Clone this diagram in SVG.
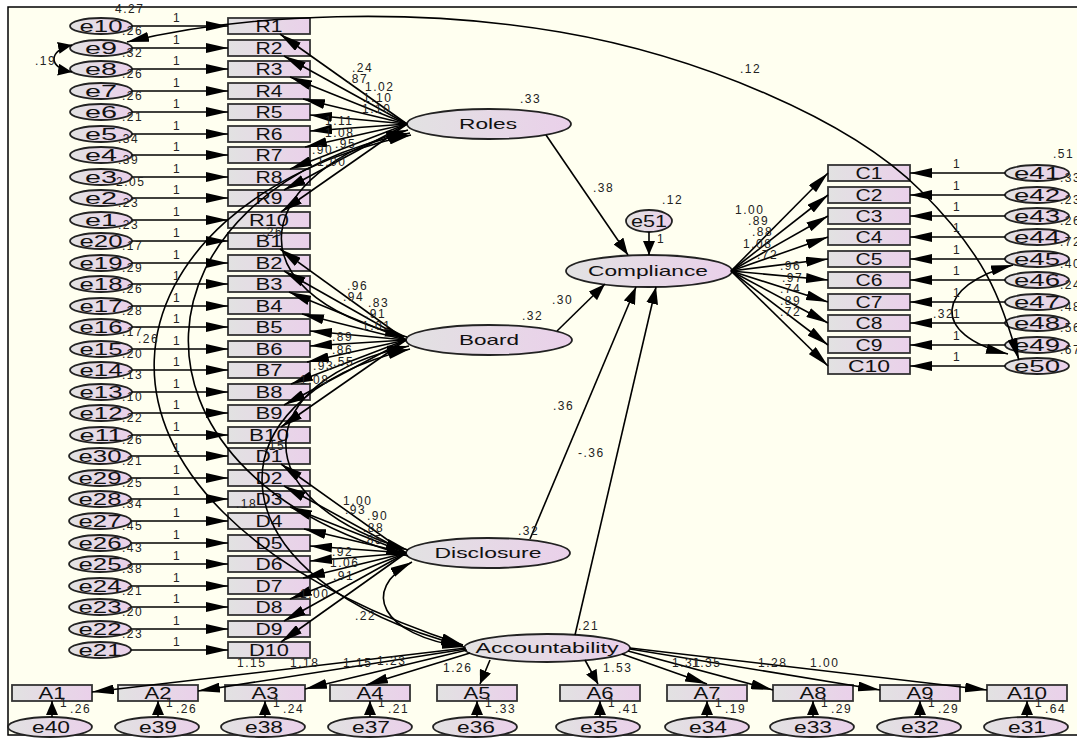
<svg xmlns="http://www.w3.org/2000/svg" width="1077" height="738" viewBox="0 0 1077 738">
<defs>
<linearGradient id="g" x1="0" y1="0" x2="1" y2="0"><stop offset="0" stop-color="#E2E2E2"/><stop offset="1" stop-color="#EAD0EA"/></linearGradient>
<marker id="ah" viewBox="0 0 22 10" markerUnits="userSpaceOnUse" markerWidth="22" markerHeight="10" refX="22" refY="5" orient="auto-start-reverse"><path d="M0,0 L22,5 L0,10 z" fill="#000"/></marker>
<marker id="av" viewBox="0 0 14 12" markerUnits="userSpaceOnUse" markerWidth="14" markerHeight="12" refX="14" refY="6" orient="auto-start-reverse"><path d="M0,0 L14,6 L0,12 z" fill="#000"/></marker>
<marker id="am" viewBox="0 0 17 12" markerUnits="userSpaceOnUse" markerWidth="17" markerHeight="12" refX="17" refY="6" orient="auto-start-reverse"><path d="M0,0 L17,6 L0,12 z" fill="#000"/></marker>
</defs>
<style>
.bx{fill:url(#g);stroke:#333;stroke-width:1.8}
.el{fill:url(#g);stroke:#222;stroke-width:1.8}
.lbl{font-family:"Liberation Sans",Arial,sans-serif;font-size:16px;fill:#111;text-anchor:middle}
.lv{font-family:"Liberation Sans",Arial,sans-serif;font-size:15px;fill:#111;text-anchor:middle}
.num{font-family:"Liberation Sans",Arial,sans-serif;font-size:12px;fill:#222;letter-spacing:1.5px}
.cn line,.cn path{fill:none;stroke:#000;stroke-width:1.6}
.ar{marker-end:url(#ah)}
.av{marker-end:url(#av)}
.am{marker-end:url(#am)}
.cv{marker-start:url(#ah);marker-end:url(#ah)}
</style>
<rect x="0" y="0" width="1077" height="738" fill="#fff"/>
<rect x="8" y="7" width="1085" height="728" fill="#FFFFF0" stroke="#000" stroke-width="1.5"/>

<!-- left observed boxes -->
<g id="R1"><rect class="bx" x="228" y="18" width="82" height="16"/><text class="lbl" x="269" y="32" textLength="27" lengthAdjust="spacingAndGlyphs">R1</text></g>
<g id="R2"><rect class="bx" x="228" y="40" width="82" height="16"/><text class="lbl" x="269" y="54" textLength="27" lengthAdjust="spacingAndGlyphs">R2</text></g>
<g id="R3"><rect class="bx" x="228" y="61" width="82" height="16"/><text class="lbl" x="269" y="75" textLength="27" lengthAdjust="spacingAndGlyphs">R3</text></g>
<g id="R4"><rect class="bx" x="228" y="83" width="82" height="16"/><text class="lbl" x="269" y="97" textLength="27" lengthAdjust="spacingAndGlyphs">R4</text></g>
<g id="R5"><rect class="bx" x="228" y="104" width="82" height="16"/><text class="lbl" x="269" y="118" textLength="27" lengthAdjust="spacingAndGlyphs">R5</text></g>
<g id="R6"><rect class="bx" x="228" y="126" width="82" height="16"/><text class="lbl" x="269" y="140" textLength="27" lengthAdjust="spacingAndGlyphs">R6</text></g>
<g id="R7"><rect class="bx" x="228" y="147" width="82" height="16"/><text class="lbl" x="269" y="161" textLength="27" lengthAdjust="spacingAndGlyphs">R7</text></g>
<g id="R8"><rect class="bx" x="228" y="169" width="82" height="16"/><text class="lbl" x="269" y="183" textLength="27" lengthAdjust="spacingAndGlyphs">R8</text></g>
<g id="R9"><rect class="bx" x="228" y="190" width="82" height="16"/><text class="lbl" x="269" y="204" textLength="27" lengthAdjust="spacingAndGlyphs">R9</text></g>
<g id="R10"><rect class="bx" x="228" y="212" width="82" height="16"/><text class="lbl" x="269" y="226" textLength="40" lengthAdjust="spacingAndGlyphs">R10</text></g>
<g id="B1"><rect class="bx" x="228" y="233" width="82" height="16"/><text class="lbl" x="269" y="247" textLength="27" lengthAdjust="spacingAndGlyphs">B1</text></g>
<g id="B2"><rect class="bx" x="228" y="255" width="82" height="16"/><text class="lbl" x="269" y="269" textLength="27" lengthAdjust="spacingAndGlyphs">B2</text></g>
<g id="B3"><rect class="bx" x="228" y="276" width="82" height="16"/><text class="lbl" x="269" y="290" textLength="27" lengthAdjust="spacingAndGlyphs">B3</text></g>
<g id="B4"><rect class="bx" x="228" y="298" width="82" height="16"/><text class="lbl" x="269" y="312" textLength="27" lengthAdjust="spacingAndGlyphs">B4</text></g>
<g id="B5"><rect class="bx" x="228" y="319" width="82" height="16"/><text class="lbl" x="269" y="333" textLength="27" lengthAdjust="spacingAndGlyphs">B5</text></g>
<g id="B6"><rect class="bx" x="228" y="341" width="82" height="16"/><text class="lbl" x="269" y="355" textLength="27" lengthAdjust="spacingAndGlyphs">B6</text></g>
<g id="B7"><rect class="bx" x="228" y="362" width="82" height="16"/><text class="lbl" x="269" y="376" textLength="27" lengthAdjust="spacingAndGlyphs">B7</text></g>
<g id="B8"><rect class="bx" x="228" y="384" width="82" height="16"/><text class="lbl" x="269" y="398" textLength="27" lengthAdjust="spacingAndGlyphs">B8</text></g>
<g id="B9"><rect class="bx" x="228" y="405" width="82" height="16"/><text class="lbl" x="269" y="419" textLength="27" lengthAdjust="spacingAndGlyphs">B9</text></g>
<g id="B10"><rect class="bx" x="228" y="427" width="82" height="16"/><text class="lbl" x="269" y="441" textLength="40" lengthAdjust="spacingAndGlyphs">B10</text></g>
<g id="D1"><rect class="bx" x="228" y="448" width="82" height="16"/><text class="lbl" x="269" y="462" textLength="27" lengthAdjust="spacingAndGlyphs">D1</text></g>
<g id="D2"><rect class="bx" x="228" y="470" width="82" height="16"/><text class="lbl" x="269" y="484" textLength="27" lengthAdjust="spacingAndGlyphs">D2</text></g>
<g id="D3"><rect class="bx" x="228" y="491" width="82" height="16"/><text class="lbl" x="269" y="505" textLength="27" lengthAdjust="spacingAndGlyphs">D3</text></g>
<g id="D4"><rect class="bx" x="228" y="513" width="82" height="16"/><text class="lbl" x="269" y="527" textLength="27" lengthAdjust="spacingAndGlyphs">D4</text></g>
<g id="D5"><rect class="bx" x="228" y="535" width="82" height="16"/><text class="lbl" x="269" y="549" textLength="27" lengthAdjust="spacingAndGlyphs">D5</text></g>
<g id="D6"><rect class="bx" x="228" y="556" width="82" height="16"/><text class="lbl" x="269" y="570" textLength="27" lengthAdjust="spacingAndGlyphs">D6</text></g>
<g id="D7"><rect class="bx" x="228" y="578" width="82" height="16"/><text class="lbl" x="269" y="592" textLength="27" lengthAdjust="spacingAndGlyphs">D7</text></g>
<g id="D8"><rect class="bx" x="228" y="599" width="82" height="16"/><text class="lbl" x="269" y="613" textLength="27" lengthAdjust="spacingAndGlyphs">D8</text></g>
<g id="D9"><rect class="bx" x="228" y="621" width="82" height="16"/><text class="lbl" x="269" y="635" textLength="27" lengthAdjust="spacingAndGlyphs">D9</text></g>
<g id="D10"><rect class="bx" x="228" y="642" width="82" height="16"/><text class="lbl" x="269" y="656" textLength="40" lengthAdjust="spacingAndGlyphs">D10</text></g>

<!-- left error terms -->
<g id="e10"><ellipse class="el" cx="101" cy="26" rx="31" ry="8"/><text class="lbl" x="101" y="32" font-size="17" textLength="43" lengthAdjust="spacingAndGlyphs">e10</text></g>
<g id="e9"><ellipse class="el" cx="101" cy="48" rx="31" ry="8"/><text class="lbl" x="101" y="54" font-size="17" textLength="32" lengthAdjust="spacingAndGlyphs">e9</text></g>
<g id="e8"><ellipse class="el" cx="101" cy="69" rx="31" ry="8"/><text class="lbl" x="101" y="75" font-size="17" textLength="32" lengthAdjust="spacingAndGlyphs">e8</text></g>
<g id="e7"><ellipse class="el" cx="101" cy="91" rx="31" ry="8"/><text class="lbl" x="101" y="97" font-size="17" textLength="32" lengthAdjust="spacingAndGlyphs">e7</text></g>
<g id="e6"><ellipse class="el" cx="101" cy="112" rx="31" ry="8"/><text class="lbl" x="101" y="118" font-size="17" textLength="32" lengthAdjust="spacingAndGlyphs">e6</text></g>
<g id="e5"><ellipse class="el" cx="101" cy="134" rx="31" ry="8"/><text class="lbl" x="101" y="140" font-size="17" textLength="32" lengthAdjust="spacingAndGlyphs">e5</text></g>
<g id="e4"><ellipse class="el" cx="101" cy="155" rx="31" ry="8"/><text class="lbl" x="101" y="161" font-size="17" textLength="32" lengthAdjust="spacingAndGlyphs">e4</text></g>
<g id="e3"><ellipse class="el" cx="101" cy="177" rx="31" ry="8"/><text class="lbl" x="101" y="183" font-size="17" textLength="32" lengthAdjust="spacingAndGlyphs">e3</text></g>
<g id="e2"><ellipse class="el" cx="101" cy="198" rx="31" ry="8"/><text class="lbl" x="101" y="204" font-size="17" textLength="32" lengthAdjust="spacingAndGlyphs">e2</text></g>
<g id="e1"><ellipse class="el" cx="101" cy="220" rx="31" ry="8"/><text class="lbl" x="101" y="226" font-size="17" textLength="32" lengthAdjust="spacingAndGlyphs">e1</text></g>
<g id="e20"><ellipse class="el" cx="101" cy="241" rx="31" ry="8"/><text class="lbl" x="101" y="247" font-size="17" textLength="43" lengthAdjust="spacingAndGlyphs">e20</text></g>
<g id="e19"><ellipse class="el" cx="101" cy="263" rx="31" ry="8"/><text class="lbl" x="101" y="269" font-size="17" textLength="43" lengthAdjust="spacingAndGlyphs">e19</text></g>
<g id="e18"><ellipse class="el" cx="101" cy="284" rx="31" ry="8"/><text class="lbl" x="101" y="290" font-size="17" textLength="43" lengthAdjust="spacingAndGlyphs">e18</text></g>
<g id="e17"><ellipse class="el" cx="101" cy="306" rx="31" ry="8"/><text class="lbl" x="101" y="312" font-size="17" textLength="43" lengthAdjust="spacingAndGlyphs">e17</text></g>
<g id="e16"><ellipse class="el" cx="101" cy="327" rx="31" ry="8"/><text class="lbl" x="101" y="333" font-size="17" textLength="43" lengthAdjust="spacingAndGlyphs">e16</text></g>
<g id="e15"><ellipse class="el" cx="101" cy="349" rx="31" ry="8"/><text class="lbl" x="101" y="355" font-size="17" textLength="43" lengthAdjust="spacingAndGlyphs">e15</text></g>
<g id="e14"><ellipse class="el" cx="101" cy="370" rx="31" ry="8"/><text class="lbl" x="101" y="376" font-size="17" textLength="43" lengthAdjust="spacingAndGlyphs">e14</text></g>
<g id="e13"><ellipse class="el" cx="101" cy="392" rx="31" ry="8"/><text class="lbl" x="101" y="398" font-size="17" textLength="43" lengthAdjust="spacingAndGlyphs">e13</text></g>
<g id="e12"><ellipse class="el" cx="101" cy="413" rx="31" ry="8"/><text class="lbl" x="101" y="419" font-size="17" textLength="43" lengthAdjust="spacingAndGlyphs">e12</text></g>
<g id="e11"><ellipse class="el" cx="101" cy="435" rx="31" ry="8"/><text class="lbl" x="101" y="441" font-size="17" textLength="43" lengthAdjust="spacingAndGlyphs">e11</text></g>
<g id="e30"><ellipse class="el" cx="100" cy="456" rx="31" ry="8"/><text class="lbl" x="100" y="462" font-size="17" textLength="43" lengthAdjust="spacingAndGlyphs">e30</text></g>
<g id="e29"><ellipse class="el" cx="100" cy="478" rx="31" ry="8"/><text class="lbl" x="100" y="484" font-size="17" textLength="43" lengthAdjust="spacingAndGlyphs">e29</text></g>
<g id="e28"><ellipse class="el" cx="100" cy="499" rx="31" ry="8"/><text class="lbl" x="100" y="505" font-size="17" textLength="43" lengthAdjust="spacingAndGlyphs">e28</text></g>
<g id="e27"><ellipse class="el" cx="100" cy="521" rx="31" ry="8"/><text class="lbl" x="100" y="527" font-size="17" textLength="43" lengthAdjust="spacingAndGlyphs">e27</text></g>
<g id="e26"><ellipse class="el" cx="100" cy="543" rx="31" ry="8"/><text class="lbl" x="100" y="549" font-size="17" textLength="43" lengthAdjust="spacingAndGlyphs">e26</text></g>
<g id="e25"><ellipse class="el" cx="100" cy="564" rx="31" ry="8"/><text class="lbl" x="100" y="570" font-size="17" textLength="43" lengthAdjust="spacingAndGlyphs">e25</text></g>
<g id="e24"><ellipse class="el" cx="100" cy="586" rx="31" ry="8"/><text class="lbl" x="100" y="592" font-size="17" textLength="43" lengthAdjust="spacingAndGlyphs">e24</text></g>
<g id="e23"><ellipse class="el" cx="100" cy="607" rx="31" ry="8"/><text class="lbl" x="100" y="613" font-size="17" textLength="43" lengthAdjust="spacingAndGlyphs">e23</text></g>
<g id="e22"><ellipse class="el" cx="100" cy="629" rx="31" ry="8"/><text class="lbl" x="100" y="635" font-size="17" textLength="43" lengthAdjust="spacingAndGlyphs">e22</text></g>
<g id="e21"><ellipse class="el" cx="100" cy="650" rx="31" ry="8"/><text class="lbl" x="100" y="656" font-size="17" textLength="43" lengthAdjust="spacingAndGlyphs">e21</text></g>

<!-- latent variables -->
<g id="Roles"><ellipse class="el" cx="489" cy="124" rx="82" ry="15"/><text class="lv" x="488" y="129" textLength="58" lengthAdjust="spacingAndGlyphs">Roles</text></g>
<g id="Board"><ellipse class="el" cx="489" cy="340" rx="83" ry="15"/><text class="lv" x="489" y="345" textLength="60" lengthAdjust="spacingAndGlyphs">Board</text></g>
<g id="Disclosure"><ellipse class="el" cx="488" cy="553" rx="82" ry="15"/><text class="lv" x="488" y="558" textLength="107" lengthAdjust="spacingAndGlyphs">Disclosure</text></g>
<g id="Accountability"><ellipse class="el" cx="547" cy="648" rx="83" ry="14"/><text class="lv" x="547" y="653" textLength="143" lengthAdjust="spacingAndGlyphs">Accountability</text></g>
<g id="Compliance"><ellipse class="el" cx="649" cy="271" rx="83" ry="16"/><text class="lv" x="648" y="276" textLength="120" lengthAdjust="spacingAndGlyphs">Compliance</text></g>
<g id="e51"><ellipse class="el" cx="649" cy="221" rx="23" ry="11"/><text class="lbl" x="649" y="227" textLength="36" lengthAdjust="spacingAndGlyphs">e51</text></g>

<!-- right observed -->
<g id="C1"><rect class="bx" x="828" y="165" width="82" height="16"/><text class="lbl" x="869" y="179" textLength="27" lengthAdjust="spacingAndGlyphs">C1</text></g>
<g id="C2"><rect class="bx" x="828" y="187" width="82" height="16"/><text class="lbl" x="869" y="201" textLength="27" lengthAdjust="spacingAndGlyphs">C2</text></g>
<g id="C3"><rect class="bx" x="828" y="208" width="82" height="16"/><text class="lbl" x="869" y="222" textLength="27" lengthAdjust="spacingAndGlyphs">C3</text></g>
<g id="C4"><rect class="bx" x="828" y="229" width="82" height="16"/><text class="lbl" x="869" y="243" textLength="27" lengthAdjust="spacingAndGlyphs">C4</text></g>
<g id="C5"><rect class="bx" x="828" y="251" width="82" height="16"/><text class="lbl" x="869" y="265" textLength="27" lengthAdjust="spacingAndGlyphs">C5</text></g>
<g id="C6"><rect class="bx" x="828" y="272" width="82" height="16"/><text class="lbl" x="869" y="286" textLength="27" lengthAdjust="spacingAndGlyphs">C6</text></g>
<g id="C7"><rect class="bx" x="828" y="294" width="82" height="16"/><text class="lbl" x="869" y="308" textLength="27" lengthAdjust="spacingAndGlyphs">C7</text></g>
<g id="C8"><rect class="bx" x="828" y="315" width="82" height="16"/><text class="lbl" x="869" y="329" textLength="27" lengthAdjust="spacingAndGlyphs">C8</text></g>
<g id="C9"><rect class="bx" x="828" y="337" width="82" height="16"/><text class="lbl" x="869" y="351" textLength="27" lengthAdjust="spacingAndGlyphs">C9</text></g>
<g id="C10"><rect class="bx" x="828" y="358" width="82" height="16"/><text class="lbl" x="869" y="372" textLength="42" lengthAdjust="spacingAndGlyphs">C10</text></g>

<g id="e41"><ellipse class="el" cx="1037" cy="173" rx="32" ry="8"/><text class="lbl" x="1037" y="179" textLength="46" lengthAdjust="spacingAndGlyphs">e41</text></g>
<g id="e42"><ellipse class="el" cx="1037" cy="195" rx="32" ry="8"/><text class="lbl" x="1037" y="201" textLength="46" lengthAdjust="spacingAndGlyphs">e42</text></g>
<g id="e43"><ellipse class="el" cx="1037" cy="216" rx="32" ry="8"/><text class="lbl" x="1037" y="222" textLength="46" lengthAdjust="spacingAndGlyphs">e43</text></g>
<g id="e44"><ellipse class="el" cx="1037" cy="237" rx="32" ry="8"/><text class="lbl" x="1037" y="243" textLength="46" lengthAdjust="spacingAndGlyphs">e44</text></g>
<g id="e45"><ellipse class="el" cx="1037" cy="259" rx="32" ry="8"/><text class="lbl" x="1037" y="265" textLength="46" lengthAdjust="spacingAndGlyphs">e45</text></g>
<g id="e46"><ellipse class="el" cx="1037" cy="280" rx="32" ry="8"/><text class="lbl" x="1037" y="286" textLength="46" lengthAdjust="spacingAndGlyphs">e46</text></g>
<g id="e47"><ellipse class="el" cx="1037" cy="302" rx="32" ry="8"/><text class="lbl" x="1037" y="308" textLength="46" lengthAdjust="spacingAndGlyphs">e47</text></g>
<g id="e48"><ellipse class="el" cx="1037" cy="323" rx="32" ry="8"/><text class="lbl" x="1037" y="329" textLength="46" lengthAdjust="spacingAndGlyphs">e48</text></g>
<g id="e49"><ellipse class="el" cx="1037" cy="345" rx="32" ry="8"/><text class="lbl" x="1037" y="351" textLength="46" lengthAdjust="spacingAndGlyphs">e49</text></g>
<g id="e50"><ellipse class="el" cx="1037" cy="366" rx="32" ry="8"/><text class="lbl" x="1037" y="372" textLength="46" lengthAdjust="spacingAndGlyphs">e50</text></g>

<!-- bottom observed -->
<g id="A1"><rect class="bx" x="12" y="685" width="80" height="16"/><text class="lbl" x="52" y="699" textLength="27" lengthAdjust="spacingAndGlyphs">A1</text></g>
<g id="A2"><rect class="bx" x="118" y="685" width="80" height="16"/><text class="lbl" x="158" y="699" textLength="27" lengthAdjust="spacingAndGlyphs">A2</text></g>
<g id="A3"><rect class="bx" x="225" y="685" width="80" height="16"/><text class="lbl" x="265" y="699" textLength="27" lengthAdjust="spacingAndGlyphs">A3</text></g>
<g id="A4"><rect class="bx" x="330" y="685" width="80" height="16"/><text class="lbl" x="370" y="699" textLength="27" lengthAdjust="spacingAndGlyphs">A4</text></g>
<g id="A5"><rect class="bx" x="437" y="685" width="80" height="16"/><text class="lbl" x="477" y="699" textLength="27" lengthAdjust="spacingAndGlyphs">A5</text></g>
<g id="A6"><rect class="bx" x="560" y="685" width="80" height="16"/><text class="lbl" x="600" y="699" textLength="27" lengthAdjust="spacingAndGlyphs">A6</text></g>
<g id="A7"><rect class="bx" x="667" y="685" width="80" height="16"/><text class="lbl" x="707" y="699" textLength="27" lengthAdjust="spacingAndGlyphs">A7</text></g>
<g id="A8"><rect class="bx" x="773" y="685" width="80" height="16"/><text class="lbl" x="813" y="699" textLength="27" lengthAdjust="spacingAndGlyphs">A8</text></g>
<g id="A9"><rect class="bx" x="880" y="685" width="80" height="16"/><text class="lbl" x="920" y="699" textLength="27" lengthAdjust="spacingAndGlyphs">A9</text></g>
<g id="A10"><rect class="bx" x="987" y="685" width="80" height="16"/><text class="lbl" x="1027" y="699" textLength="40" lengthAdjust="spacingAndGlyphs">A10</text></g>

<g id="e40"><ellipse class="el" cx="50" cy="727" rx="42" ry="10"/><text class="lbl" x="51" y="733" textLength="38" lengthAdjust="spacingAndGlyphs">e40</text></g>
<g id="e39"><ellipse class="el" cx="157" cy="727" rx="42" ry="10"/><text class="lbl" x="158" y="733" textLength="38" lengthAdjust="spacingAndGlyphs">e39</text></g>
<g id="e38"><ellipse class="el" cx="263" cy="727" rx="42" ry="10"/><text class="lbl" x="264" y="733" textLength="38" lengthAdjust="spacingAndGlyphs">e38</text></g>
<g id="e37"><ellipse class="el" cx="370" cy="727" rx="42" ry="10"/><text class="lbl" x="371" y="733" textLength="38" lengthAdjust="spacingAndGlyphs">e37</text></g>
<g id="e36"><ellipse class="el" cx="475" cy="727" rx="42" ry="10"/><text class="lbl" x="476" y="733" textLength="38" lengthAdjust="spacingAndGlyphs">e36</text></g>
<g id="e35"><ellipse class="el" cx="598" cy="727" rx="42" ry="10"/><text class="lbl" x="599" y="733" textLength="38" lengthAdjust="spacingAndGlyphs">e35</text></g>
<g id="e34"><ellipse class="el" cx="707" cy="727" rx="42" ry="10"/><text class="lbl" x="708" y="733" textLength="38" lengthAdjust="spacingAndGlyphs">e34</text></g>
<g id="e33"><ellipse class="el" cx="812" cy="727" rx="42" ry="10"/><text class="lbl" x="813" y="733" textLength="38" lengthAdjust="spacingAndGlyphs">e33</text></g>
<g id="e32"><ellipse class="el" cx="919" cy="727" rx="42" ry="10"/><text class="lbl" x="920" y="733" textLength="38" lengthAdjust="spacingAndGlyphs">e32</text></g>
<g id="e31"><ellipse class="el" cx="1026" cy="727" rx="42" ry="10"/><text class="lbl" x="1027" y="733" textLength="38" lengthAdjust="spacingAndGlyphs">e31</text></g>

<!-- connectors -->
<g id="connectors" class="cn">
<!-- e -> left boxes -->
<line class="ar" x1="132" y1="26" x2="228" y2="26"/>
<line class="ar" x1="132" y1="48" x2="228" y2="48"/>
<line class="ar" x1="132" y1="69" x2="228" y2="69"/>
<line class="ar" x1="132" y1="91" x2="228" y2="91"/>
<line class="ar" x1="132" y1="112" x2="228" y2="112"/>
<line class="ar" x1="132" y1="134" x2="228" y2="134"/>
<line class="ar" x1="132" y1="155" x2="228" y2="155"/>
<line class="ar" x1="132" y1="177" x2="228" y2="177"/>
<line class="ar" x1="132" y1="198" x2="228" y2="198"/>
<line class="ar" x1="132" y1="220" x2="228" y2="220"/>
<line class="ar" x1="132" y1="241" x2="228" y2="241"/>
<line class="ar" x1="132" y1="263" x2="228" y2="263"/>
<line class="ar" x1="132" y1="284" x2="228" y2="284"/>
<line class="ar" x1="132" y1="306" x2="228" y2="306"/>
<line class="ar" x1="132" y1="327" x2="228" y2="327"/>
<line class="ar" x1="132" y1="349" x2="228" y2="349"/>
<line class="ar" x1="132" y1="370" x2="228" y2="370"/>
<line class="ar" x1="132" y1="392" x2="228" y2="392"/>
<line class="ar" x1="132" y1="413" x2="228" y2="413"/>
<line class="ar" x1="132" y1="435" x2="228" y2="435"/>
<line class="ar" x1="131" y1="456" x2="228" y2="456"/>
<line class="ar" x1="131" y1="478" x2="228" y2="478"/>
<line class="ar" x1="131" y1="499" x2="228" y2="499"/>
<line class="ar" x1="131" y1="521" x2="228" y2="521"/>
<line class="ar" x1="131" y1="543" x2="228" y2="543"/>
<line class="ar" x1="131" y1="564" x2="228" y2="564"/>
<line class="ar" x1="131" y1="586" x2="228" y2="586"/>
<line class="ar" x1="131" y1="607" x2="228" y2="607"/>
<line class="ar" x1="131" y1="629" x2="228" y2="629"/>
<line class="ar" x1="131" y1="650" x2="228" y2="650"/>
<!-- Roles loadings -->
<line class="ar" x1="407" y1="124" x2="280" y2="34"/>
<line class="ar" x1="407" y1="124" x2="284" y2="56"/>
<line class="ar" x1="407" y1="124" x2="290" y2="77"/>
<line class="ar" x1="407" y1="124" x2="303" y2="99"/>
<line class="ar" x1="407" y1="124" x2="310" y2="115"/>
<line class="ar" x1="407" y1="124" x2="310" y2="131"/>
<line class="ar" x1="407" y1="124" x2="305" y2="147"/>
<line class="ar" x1="407" y1="124" x2="290" y2="169"/>
<line class="ar" x1="407" y1="124" x2="284" y2="190"/>
<line class="ar" x1="407" y1="124" x2="281" y2="212"/>
<!-- Board loadings -->
<line class="ar" x1="406" y1="340" x2="280" y2="249"/>
<line class="ar" x1="406" y1="340" x2="284" y2="271"/>
<line class="ar" x1="406" y1="340" x2="289" y2="292"/>
<line class="ar" x1="406" y1="340" x2="302" y2="314"/>
<line class="ar" x1="406" y1="340" x2="310" y2="331"/>
<line class="ar" x1="406" y1="340" x2="310" y2="346"/>
<line class="ar" x1="406" y1="340" x2="307" y2="362"/>
<line class="ar" x1="406" y1="340" x2="291" y2="384"/>
<line class="ar" x1="406" y1="340" x2="284" y2="405"/>
<line class="ar" x1="406" y1="340" x2="281" y2="427"/>
<!-- Disclosure loadings -->
<line class="ar" x1="406" y1="553" x2="281" y2="464"/>
<line class="ar" x1="406" y1="553" x2="284" y2="486"/>
<line class="ar" x1="406" y1="553" x2="290" y2="507"/>
<line class="ar" x1="406" y1="553" x2="304" y2="529"/>
<line class="ar" x1="406" y1="553" x2="310" y2="546"/>
<line class="ar" x1="406" y1="553" x2="310" y2="561"/>
<line class="ar" x1="406" y1="553" x2="303" y2="578"/>
<line class="ar" x1="406" y1="553" x2="290" y2="599"/>
<line class="ar" x1="406" y1="553" x2="284" y2="621"/>
<line class="ar" x1="406" y1="553" x2="281" y2="642"/>
<!-- structural paths -->
<line class="am" x1="546" y1="135" x2="628" y2="255"/>
<line class="am" x1="557" y1="331" x2="605" y2="284"/>
<line class="am" x1="530" y1="539" x2="636" y2="287"/>
<line class="am" x1="575" y1="635" x2="656" y2="287"/>
<line class="av" x1="649" y1="232" x2="649" y2="255"/>
<!-- Compliance loadings -->
<line class="ar" x1="731" y1="271" x2="828" y2="173"/>
<line class="ar" x1="731" y1="271" x2="828" y2="195"/>
<line class="ar" x1="731" y1="271" x2="828" y2="216"/>
<line class="ar" x1="731" y1="271" x2="828" y2="237"/>
<line class="ar" x1="731" y1="271" x2="828" y2="259"/>
<line class="ar" x1="731" y1="271" x2="828" y2="280"/>
<line class="ar" x1="731" y1="271" x2="828" y2="302"/>
<line class="ar" x1="731" y1="271" x2="828" y2="323"/>
<line class="ar" x1="731" y1="271" x2="828" y2="345"/>
<line class="ar" x1="731" y1="271" x2="828" y2="366"/>
<!-- right errors -->
<line class="ar" x1="1005" y1="173" x2="910" y2="173"/>
<line class="ar" x1="1005" y1="195" x2="910" y2="195"/>
<line class="ar" x1="1005" y1="216" x2="910" y2="216"/>
<line class="ar" x1="1005" y1="237" x2="910" y2="237"/>
<line class="ar" x1="1005" y1="259" x2="910" y2="259"/>
<line class="ar" x1="1005" y1="280" x2="910" y2="280"/>
<line class="ar" x1="1005" y1="302" x2="910" y2="302"/>
<line class="ar" x1="1005" y1="323" x2="910" y2="323"/>
<line class="ar" x1="1005" y1="345" x2="910" y2="345"/>
<line class="ar" x1="1005" y1="366" x2="910" y2="366"/>
<!-- Accountability loadings -->
<line class="ar" x1="466" y1="648" x2="92" y2="692"/>
<line class="ar" x1="466" y1="649" x2="198" y2="691"/>
<line class="ar" x1="467" y1="650" x2="305" y2="689"/>
<line class="ar" x1="470" y1="653" x2="366" y2="685"/>
<line class="av" x1="490" y1="660" x2="480" y2="684"/>
<line class="av" x1="585" y1="660" x2="598" y2="684"/>
<line class="ar" x1="622" y1="654" x2="707" y2="684"/>
<line class="ar" x1="628" y1="651" x2="773" y2="690"/>
<line class="ar" x1="630" y1="649" x2="880" y2="690"/>
<line class="ar" x1="630" y1="648" x2="987" y2="690"/>
<!-- bottom errors -->
<line class="av" x1="52" y1="717" x2="52" y2="701"/>
<line class="av" x1="158" y1="717" x2="158" y2="701"/>
<line class="av" x1="265" y1="717" x2="265" y2="701"/>
<line class="av" x1="370" y1="717" x2="370" y2="701"/>
<line class="av" x1="477" y1="717" x2="477" y2="701"/>
<line class="av" x1="600" y1="717" x2="600" y2="701"/>
<line class="av" x1="707" y1="717" x2="707" y2="701"/>
<line class="av" x1="813" y1="717" x2="813" y2="701"/>
<line class="av" x1="920" y1="717" x2="920" y2="701"/>
<line class="av" x1="1027" y1="717" x2="1027" y2="701"/>
<!-- covariances -->
<path class="cv" d="M127,42 C250,12 420,8 560,32 S850,120 920,190 S1000,300 1019,360"/>
<path d="M72,45 C48,50 48,68 72,72" style="marker-start:url(#av);marker-end:url(#av)"/>
<path class="cv" d="M1013,265 C935,285 930,335 1008,354"/>
<path class="cv" d="M408,130 C260,170 220,290 407,337"/>
<path class="cv" d="M410,133 C130,190 100,470 408,556"/>
<path class="cv" d="M411,135 C100,200 20,500 463,645"/>
<path class="cv" d="M409,346 C250,380 240,500 408,550"/>
<path class="cv" d="M410,349 C200,400 210,580 463,646"/>
<path class="cv" d="M412,562 C360,590 380,635 464,647"/>
</g>

<!-- labels -->
<g id="labels" class="num">
<text x="115" y="13">4.27</text>
<text x="35" y="65">.19</text>
<text x="740" y="73">.12</text>
<text x="1053" y="158">.51</text>
<!-- "1" left -->
<text x="173" y="22">1</text><text x="173" y="44">1</text><text x="173" y="65">1</text><text x="173" y="87">1</text><text x="173" y="108">1</text>
<text x="173" y="130">1</text><text x="173" y="151">1</text><text x="173" y="173">1</text><text x="173" y="194">1</text><text x="173" y="216">1</text>
<text x="173" y="237">1</text><text x="173" y="259">1</text><text x="173" y="280">1</text><text x="173" y="302">1</text><text x="173" y="323">1</text>
<text x="173" y="345">1</text><text x="173" y="366">1</text><text x="173" y="388">1</text><text x="173" y="409">1</text><text x="173" y="431">1</text>
<text x="173" y="452">1</text><text x="173" y="474">1</text><text x="173" y="495">1</text><text x="173" y="517">1</text><text x="173" y="539">1</text>
<text x="173" y="560">1</text><text x="173" y="582">1</text><text x="173" y="603">1</text><text x="173" y="625">1</text><text x="173" y="646">1</text>
<!-- left variances -->
<text x="122" y="35">.26</text><text x="122" y="57">.32</text><text x="122" y="78">.26</text><text x="122" y="100">.26</text><text x="122" y="121">.21</text>
<text x="118" y="143">.34</text><text x="118" y="164">.39</text><text x="116" y="186">2.05</text><text x="118" y="207">.23</text><text x="118" y="229">.23</text>
<text x="122" y="250">.17</text><text x="122" y="272">.29</text><text x="122" y="293">.26</text><text x="122" y="315">.28</text><text x="122" y="336">.17</text>
<text x="122" y="358">.20</text><text x="122" y="379">.13</text><text x="122" y="401">.10</text><text x="122" y="422">.22</text><text x="122" y="444">.26</text>
<text x="122" y="465">.21</text><text x="122" y="487">.25</text><text x="122" y="508">.34</text><text x="122" y="530">.45</text><text x="122" y="552">.43</text>
<text x="122" y="573">.38</text><text x="122" y="595">.21</text><text x="122" y="616">.20</text><text x="122" y="638">.23</text>
<!-- Roles loadings -->
<text x="352" y="72">.24</text><text x="347" y="83">.87</text><text x="365" y="91">1.02</text><text x="363" y="102">1.10</text><text x="362" y="113">1.10</text>
<text x="325" y="125">1.11</text><text x="325" y="137">1.08</text><text x="335" y="148">.95</text><text x="312" y="154">.90</text><text x="317" y="166">1.00</text>
<!-- Board loadings -->
<text x="347" y="290">.96</text><text x="343" y="301">.94</text><text x="368" y="307">.83</text><text x="365" y="318">.91</text><text x="362" y="330">1.01</text>
<text x="332" y="341">.89</text><text x="332" y="354">.86</text><text x="333" y="366">.55</text><text x="313" y="370">.93</text><text x="300" y="384">1.08</text>
<!-- Disclosure loadings -->
<text x="343" y="505">1.00</text><text x="345" y="514">.93</text><text x="367" y="520">.90</text><text x="363" y="532">.88</text><text x="362" y="544">.85</text>
<text x="332" y="556">.92</text><text x="330" y="567">1.06</text><text x="333" y="580">.91</text><text x="300" y="598">1.00</text>
<!-- covariance labels -->
<text x="262" y="236">.26</text><text x="138" y="343">.26</text><text x="236" y="508">.18</text><text x="264" y="450">.15</text><text x="355" y="620">.22</text>
<text x="933" y="318">.32</text>
<!-- structural -->
<text x="520" y="103">.33</text><text x="593" y="192">.38</text><text x="552" y="304">.30</text><text x="522" y="320">.32</text>
<text x="553" y="410">.36</text><text x="578" y="457">-.36</text><text x="518" y="535">.32</text><text x="578" y="630">.21</text>
<text x="662" y="204">.12</text><text x="657" y="243">1</text>
<!-- Compliance loadings -->
<text x="735" y="214">1.00</text><text x="748" y="225">.89</text><text x="752" y="236">.88</text><text x="743" y="248">1.08</text><text x="757" y="259">.72</text>
<text x="780" y="270">.96</text><text x="782" y="282">.97</text><text x="780" y="293">.74</text><text x="780" y="305">.89</text><text x="780" y="316">.72</text>
<!-- right "1" and variances -->
<text x="953" y="168">1</text><text x="953" y="190">1</text><text x="953" y="211">1</text><text x="953" y="232">1</text><text x="953" y="254">1</text>
<text x="953" y="275">1</text><text x="953" y="297">1</text><text x="953" y="318">1</text><text x="953" y="340">1</text><text x="953" y="361">1</text>
<text x="1060" y="182">.33</text><text x="1060" y="204">.23</text><text x="1060" y="225">.26</text><text x="1060" y="246">.72</text><text x="1060" y="268">.40</text>
<text x="1060" y="289">.24</text><text x="1060" y="311">.48</text><text x="1060" y="332">.56</text><text x="1060" y="354">.67</text>
<!-- Accountability loadings -->
<text x="237" y="667">1.15</text><text x="290" y="667">1.18</text><text x="343" y="667">1.15</text><text x="377" y="665">1.23</text><text x="443" y="672">1.26</text>
<text x="603" y="672">1.53</text><text x="672" y="667">1.31</text><text x="692" y="667">1.35</text><text x="758" y="667">1.28</text><text x="810" y="667">1.00</text>
<!-- bottom "1" and variances -->
<text x="60" y="707">1</text><text x="166" y="707">1</text><text x="273" y="707">1</text><text x="378" y="707">1</text><text x="485" y="707">1</text>
<text x="608" y="707">1</text><text x="715" y="707">1</text><text x="821" y="707">1</text><text x="928" y="707">1</text><text x="1035" y="707">1</text>
<text x="70" y="713">.26</text><text x="176" y="713">.26</text><text x="283" y="713">.24</text><text x="388" y="713">.21</text><text x="495" y="713">.33</text>
<text x="618" y="713">.41</text><text x="725" y="713">.19</text><text x="831" y="713">.29</text><text x="938" y="713">.29</text><text x="1045" y="713">.64</text>
</g>
</svg>
